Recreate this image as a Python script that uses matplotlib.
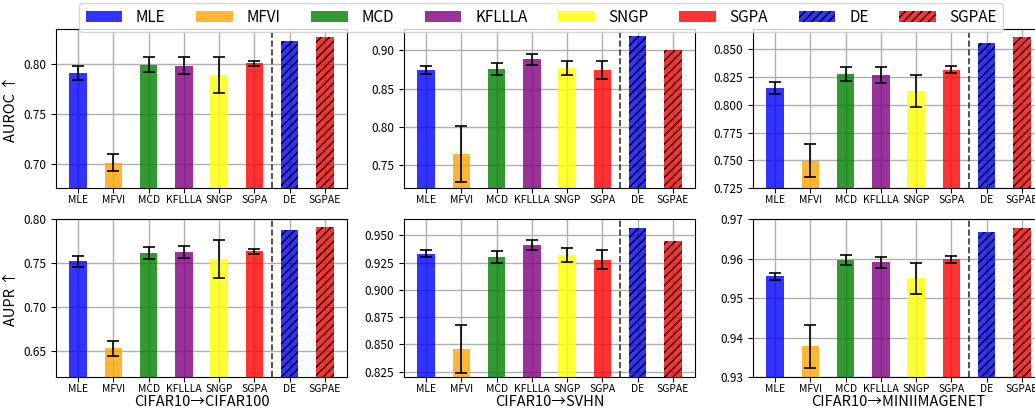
import matplotlib.pyplot as plt
from matplotlib.colors import to_rgba

plt.rcParams['font.family'] = ['Noto Sans CJK SC', 'DejaVu Sans']
plt.rcParams['axes.unicode_minus'] = False

# 方法と色
methods = ['MLE', 'MFVI', 'MCD', 'KFLLLA', 'SNGP', 'SGPA', 'DE', 'SGPAE']
colors = ['blue', 'orange', 'green', 'purple', 'yellow', 'red', 'blue', 'red']
hatched = ['DE', 'SGPAE']

# AUROC (CIFAR10 -> CIFAR100 / SVHN / miniImageNet)
auroc_c100 = [0.7907, 0.7010, 0.7993, 0.7983, 0.7886, 0.8007, 0.8224, 0.8267]
auroc_c100_err = [0.0067, 0.0086, 0.0077, 0.0082, 0.0183, 0.0025, 0, 0]
auroc_svhn = [0.8742, 0.7646, 0.8755, 0.8884, 0.8768, 0.8742, 0.9190, 0.9000]
auroc_svhn_err = [0.0048, 0.0362, 0.0075, 0.0072, 0.0092, 0.0123, 0, 0]
auroc_mini = [0.8150, 0.7497, 0.8277, 0.8268, 0.8125, 0.8317, 0.8558, 0.8613]
auroc_mini_err = [0.0052, 0.0150, 0.0060, 0.0070, 0.0143, 0.0030, 0, 0]

# AUPR
aupr_c100 = [0.7519, 0.6534, 0.7610, 0.7625, 0.7542, 0.7632, 0.7872, 0.7913]
aupr_c100_err = [0.0060, 0.0087, 0.0068, 0.0068, 0.0215, 0.0027, 0, 0]
aupr_svhn = [0.9332, 0.8463, 0.9305, 0.9415, 0.9323, 0.9277, 0.9570, 0.9451]
aupr_svhn_err = [0.0034, 0.0220, 0.0055, 0.0046, 0.0064, 0.0089, 0, 0]
aupr_mini = [0.9555, 0.9379, 0.9596, 0.9591, 0.9550, 0.9598, 0.9666, 0.9678]
aupr_mini_err = [0.0009, 0.0054, 0.0013, 0.0014, 0.0040, 0.0009, 0, 0]

datasets = ['CIFAR10\u2192CIFAR100', 'CIFAR10\u2192SVHN', 'CIFAR10\u2192MINIIMAGENET']
ylabels = ['AUROC \u2191', 'AUPR \u2191']

panels = [
    [(auroc_c100, auroc_c100_err, (0.6755, 0.8345)),
     (auroc_svhn, auroc_svhn_err, (0.720, 0.9274)),
     (auroc_mini, auroc_mini_err, (0.725, 0.868))],
    [(aupr_c100, aupr_c100_err, (0.6202, 0.80)),
     (aupr_svhn, aupr_svhn_err, (0.8198, 0.965)),
     (aupr_mini, aupr_mini_err, (0.93, 0.97))],
]

fig = plt.figure(figsize=(10.35, 4.13), dpi=100)
lefts = [0.0541, 0.3903, 0.7275]
bottoms = [0.5448, 0.086]
w, h = 0.2812, 0.384

handles = []
for r in range(2):
    for c in range(3):
        vals, errs, ylim = panels[r][c]
        ax = fig.add_axes([lefts[c], bottoms[r], w, h])
        ax.set_axisbelow(True)
        ax.grid(True, color='#b0b0b0', linewidth=1.0)
        for i, m in enumerate(methods):
            fc = to_rgba(colors[i], 0.8)
            if m in hatched:
                b = ax.bar(i, vals[i], width=0.5, facecolor=fc, edgecolor='black',
                           linewidth=0, hatch='////', label=m)
            else:
                b = ax.bar(i, vals[i], width=0.5, color=fc, label=m)
                ax.errorbar(i, vals[i], yerr=errs[i], color='black', capsize=4,
                            elinewidth=1.2, capthick=1.2)
            if r == 0 and c == 0:
                handles.append(b)
        ax.axvline(5.5, color='#333333', linestyle='--', linewidth=1.2)
        ax.set_ylim(*ylim)
        ax.set_xlim(-0.63, 7.63)
        ax.set_xticks(range(len(methods)))
        ax.set_xticklabels(methods, fontsize=7.5)
        ax.tick_params(axis='x', pad=1.5)
        ax.tick_params(axis='y', labelsize=8.5)
        if c == 0:
            ax.set_ylabel(ylabels[r], fontsize=10.5)
        if r == 1:
            ax.set_xlabel(datasets[c], fontsize=10.5, labelpad=0.5)

fig.legend(handles, methods, loc='upper center', bbox_to_anchor=(0.523, 1.0),
           ncol=8, fontsize=11, handlelength=2.4, handletextpad=0.9,
           columnspacing=2.0, framealpha=0.8, borderpad=0.4,
           borderaxespad=0.2)

plt.savefig('out.png', dpi=100)
